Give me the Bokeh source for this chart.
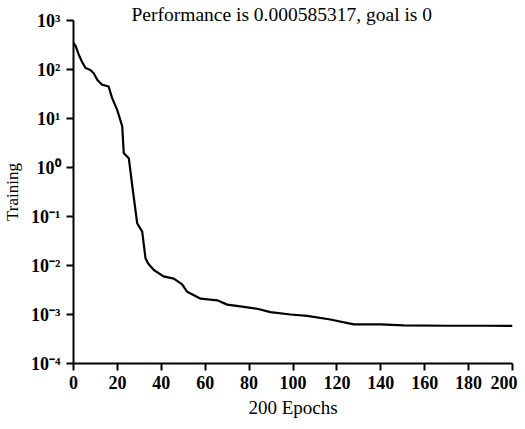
from bokeh.plotting import figure
from bokeh.models import FixedTicker, CustomJSTickFormatter, Range1d
from bokeh.embed import file_html
from bokeh.resources import INLINE

# data
epochs = [0, 1, 2.4, 4, 5.5, 7.7, 9.3, 10.8, 13, 16, 17.6, 19.9, 22.2, 22.9,
          25.2, 26.7, 29, 31.3, 32.8, 34, 36.6, 41, 45.7, 49.5, 51.8, 57.9,
          65.5, 70, 76, 83.7, 89.7, 98.9, 106.5, 117, 127.7, 139.9, 150.5,
          170, 187, 200]
perf = [350, 300, 200, 140, 107, 98, 83, 62, 49, 45, 26, 15, 6.9, 1.95,
        1.55, 0.45, 0.073, 0.049, 0.014, 0.011, 0.0081, 0.006, 0.0054, 0.0041,
        0.0029, 0.0021, 0.00195, 0.00159, 0.00146, 0.00131, 0.00112, 0.001,
        0.00094, 0.00079, 0.00063, 0.00063, 0.0006, 0.00059, 0.00059, 0.000585317]

y_ticks = [1e-4, 1e-3, 1e-2, 1e-1, 1e0, 1e1, 1e2, 1e3]
y_tick_labels = ["10\u207b\u2074", "10\u207b\u00b3", "10\u207b\u00b2", "10\u207b\u00b9",
                 "10\u2070", "10\u00b9", "10\u00b2", "10\u00b3"]
x_ticks = [0, 20, 40, 60, 80, 100, 120, 140, 160, 180, 200]

title_text = "Performance is 0.000585317, goal is 0"
x_label = "200 Epochs"
y_label = "Training"

FONT = "Liberation Serif"

p = figure(width=517, height=421, y_axis_type="log",
           x_range=Range1d(0, 200), y_range=Range1d(1e-4, 1e3),
           output_backend="svg", toolbar_location=None,
           min_border_left=73, min_border_right=5, min_border_top=20,
           min_border_bottom=58)
p.outline_line_color = None
p.xgrid.visible = False
p.ygrid.visible = False

p.title.text = title_text
p.title.text_font = FONT
p.title.text_font_style = "normal"
p.title.text_font_size = "19.5px"
p.title.text_color = "black"
p.title.align = "left"
p.title.offset = 58
p.title.vertical_align = "bottom"
p.title.standoff = -9

p.line(epochs, perf, line_color="black", line_width=2.2)

for ax in (p.xaxis[0], p.yaxis[0]):
    ax.axis_line_width = 2
    ax.major_tick_line_width = 2
    ax.minor_tick_line_color = None
    ax.major_tick_in = 0
    ax.major_tick_out = 7
    ax.major_label_text_font = FONT
    ax.major_label_text_font_style = "bold"
    ax.major_label_text_font_size = "18px"
    ax.major_label_text_color = "black"
    ax.axis_label_text_font = FONT
    ax.axis_label_text_font_style = "normal"
    ax.axis_label_text_color = "black"

p.xaxis.ticker = FixedTicker(ticks=x_ticks)
p.xaxis.major_label_standoff = 5
p.xaxis.axis_label = x_label
p.xaxis.axis_label_text_font_size = "19px"
p.xaxis.axis_label_standoff = 5

p.yaxis.ticker = FixedTicker(ticks=y_ticks)
p.yaxis.major_label_standoff = 6
p.yaxis.axis_label = y_label
p.yaxis.axis_label_text_font_size = "17px"
p.yaxis.axis_label_standoff = 6
p.yaxis.formatter = CustomJSTickFormatter(args=dict(tvals=y_ticks, tlabels=y_tick_labels), code="""
    let best = 0, bd = Infinity;
    for (let i = 0; i < tvals.length; i++) {
        const d = Math.abs(Math.log10(tvals[i]) - Math.log10(tick));
        if (d < bd) { bd = d; best = i; }
    }
    return tlabels[best];
""")

open("out.html", "w").write(file_html(p, INLINE))
